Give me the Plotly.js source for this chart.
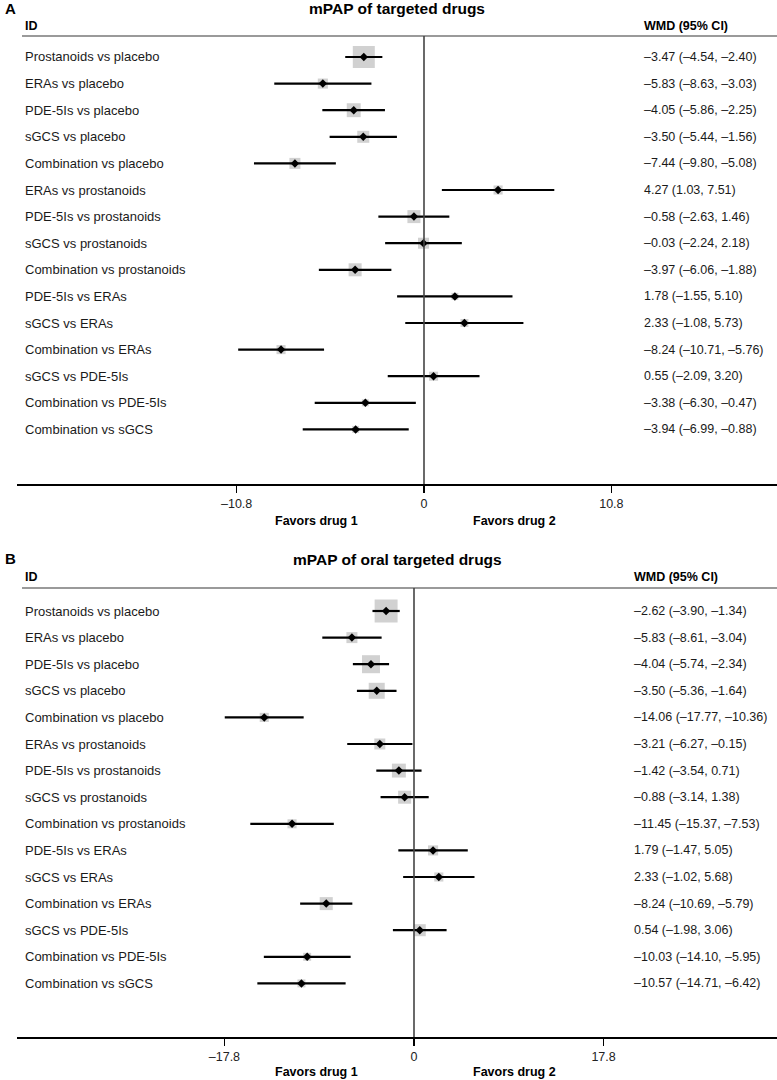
<!DOCTYPE html>
<html>
<head>
<meta charset="utf-8">
<script src="https://cdn.plot.ly/plotly-3.0.1.min.js"></script>
<style>html,body{margin:0;padding:0;background:#fff;}#chart{width:777px;height:1080px;}</style>
</head>
<body>
<div id="chart"></div>
<script>
// ---- data ----
const comparisons = ["Prostanoids vs placebo","ERAs vs placebo","PDE-5Is vs placebo","sGCS vs placebo","Combination vs placebo","ERAs vs prostanoids","PDE-5Is vs prostanoids","sGCS vs prostanoids","Combination vs prostanoids","PDE-5Is vs ERAs","sGCS vs ERAs","Combination vs ERAs","sGCS vs PDE-5Is","Combination vs PDE-5Is","Combination vs sGCS"];

const wmdA = [-3.47,-5.83,-4.05,-3.50,-7.44,4.27,-0.58,-0.03,-3.97,1.78,2.33,-8.24,0.55,-3.38,-3.94];
const lowA = [-4.54,-8.63,-5.86,-5.44,-9.80,1.03,-2.63,-2.24,-6.06,-1.55,-1.08,-10.71,-2.09,-6.30,-6.99];
const highA = [-2.40,-3.03,-2.25,-1.56,-5.08,7.51,1.46,2.18,-1.88,5.10,5.73,-5.76,3.20,-0.47,-0.88];
const weightA = [100,21,40,30,25,17,35,25,35,10,13,17,17,10,10];
const ticksA = [-10.8, 0, 10.8];

const wmdB = [-2.62,-5.83,-4.04,-3.50,-14.06,-3.21,-1.42,-0.88,-11.45,1.79,2.33,-8.24,0.54,-10.03,-10.57];
const lowB = [-3.90,-8.61,-5.74,-5.36,-17.77,-6.27,-3.54,-3.14,-15.37,-1.47,-1.02,-10.69,-1.98,-14.10,-14.71];
const highB = [-1.34,-3.04,-2.34,-1.64,-10.36,-0.15,0.71,1.38,-7.53,5.05,5.68,-5.79,3.06,-5.95,-6.42];
const weightB = [109,25,67,53,17,25,40,35,17,21,17,35,30,13,13];
const ticksB = [-17.8, 0, 17.8];

const titleA = "mPAP of targeted drugs";
const titleB = "mPAP of oral targeted drugs";

// ---- drawing ----
const W = 777, H = 1080;
const FONT = "Liberation Sans, Arial, sans-serif";
const py = y => 1 - y / H;
const px = x => x / W;
const fmt = v => (v < 0 ? "\u2013" : "") + Math.abs(v).toFixed(2);

const rowIdx = comparisons.map((_, i) => i);
const traces = [];
const annotations = [];
const shapes = [];

const layout = {
  width: W, height: H, margin: {l: 0, r: 0, t: 0, b: 0},
  paper_bgcolor: "#fff", plot_bgcolor: "#fff", showlegend: false,
  font: {family: FONT}
};

function panel(cfg) {
  const {wmd, low, high, weight, ticks, title, letter, xa, ya, zeroPx, unitPx, topLine, axisLine, row0, rowStep, titleY, headY, textX, favY} = cfg;
  traces.push({
    type: "scatter", mode: "markers", x: wmd, y: rowIdx, xaxis: xa, yaxis: ya,
    marker: {symbol: "square", size: weight.map(w => 2.2 * Math.sqrt(w)), color: "#bdbdbd", line: {width: 0}},
    hoverinfo: "skip", cliponaxis: false
  });
  traces.push({
    type: "scatter", mode: "markers", x: wmd, y: rowIdx, xaxis: xa, yaxis: ya,
    marker: {symbol: "diamond", size: 6.5, color: "#000"},
    error_x: {type: "data", symmetric: false,
      array: wmd.map((v, i) => high[i] - v), arrayminus: wmd.map((v, i) => v - low[i]),
      width: 0, thickness: 2.2, color: "#000"},
    hoverinfo: "skip", cliponaxis: false
  });
  const yref = ya === "y" ? "y" : "y2";
  comparisons.forEach((c, i) => {
    annotations.push({xref: "paper", yref, x: px(23), y: i, xanchor: "left", yanchor: "middle",
      text: c, showarrow: false, font: {family: FONT, size: 13, color: "#1a1a1a"}});
    annotations.push({xref: "paper", yref, x: px(textX), y: i, xanchor: "left", yanchor: "middle",
      text: `${fmt(wmd[i])} (${fmt(low[i])}, ${fmt(high[i])})`, showarrow: false,
      font: {family: FONT, size: 12.5, color: "#1a1a1a"}});
  });
  annotations.push({xref: "paper", yref: "paper", x: px(3), y: py(titleY - 1), xanchor: "left", yanchor: "middle",
    text: "<b>" + letter + "</b>", showarrow: false, font: {family: FONT, size: 15, color: "#000"}});
  annotations.push({xref: "paper", yref: "paper", x: px(397), y: py(titleY), xanchor: "center", yanchor: "middle",
    text: "<b>" + title + "</b>", showarrow: false, font: {family: FONT, size: 15.5, color: "#000"}});
  annotations.push({xref: "paper", yref: "paper", x: px(23), y: py(headY), xanchor: "left", yanchor: "middle",
    text: "<b>ID</b>", showarrow: false, font: {family: FONT, size: 12.5, color: "#000"}});
  annotations.push({xref: "paper", yref: "paper", x: px(textX), y: py(headY), xanchor: "left", yanchor: "middle",
    text: "<b>WMD (95% CI)</b>", showarrow: false, font: {family: FONT, size: 12.5, color: "#000"}});
  annotations.push({xref: "paper", yref: "paper", x: px(316), y: py(favY), xanchor: "center", yanchor: "middle",
    text: "<b>Favors drug 1</b>", showarrow: false, font: {family: FONT, size: 12.5, color: "#000"}});
  annotations.push({xref: "paper", yref: "paper", x: px(514), y: py(favY), xanchor: "center", yanchor: "middle",
    text: "<b>Favors drug 2</b>", showarrow: false, font: {family: FONT, size: 12.5, color: "#000"}});

  shapes.push({type: "line", xref: "paper", yref: "paper", x0: px(22), x1: 1, y0: py(topLine), y1: py(topLine),
    line: {color: "#9a9a9a", width: 2}});
  shapes.push({type: "line", xref: xa, yref: "paper", x0: 0, x1: 0, y0: py(axisLine), y1: py(topLine),
    line: {color: "#444", width: 1.6}});

  const axKey = xa === "x" ? "xaxis" : "xaxis2";
  const ayKey = ya === "y" ? "yaxis" : "yaxis2";
  const left = 17;
  layout[axKey] = {
    domain: [px(left), 1], range: [(left - zeroPx) / unitPx, (W - zeroPx) / unitPx], anchor: ya,
    tickvals: ticks, ticktext: ticks.map(t => t === 0 ? "0" : (t < 0 ? "\u2013" : "") + Math.abs(t).toFixed(1)),
    ticks: "outside", ticklen: 7, tickwidth: 1.5, tickcolor: "#000",
    showgrid: false, zeroline: false, showline: true, linecolor: "#000", linewidth: 1.6,
    tickfont: {family: FONT, size: 12.5, color: "#222"}, fixedrange: true
  };
  layout[ayKey] = {
    domain: [py(axisLine), py(topLine)], anchor: xa,
    range: [(axisLine - row0) / rowStep, (topLine - row0) / rowStep],
    visible: false, showgrid: false, zeroline: false, fixedrange: true
  };
}

panel({wmd: wmdA, low: lowA, high: highA, weight: weightA, ticks: ticksA, title: titleA, letter: "A",
  xa: "x", ya: "y", zeroPx: 424, unitPx: 17.35, topLine: 36, axisLine: 484, row0: 57, rowStep: 26.6,
  titleY: 9, headY: 26, textX: 642, favY: 521});
panel({wmd: wmdB, low: lowB, high: highB, weight: weightB, ticks: ticksB, title: titleB, letter: "B",
  xa: "x2", ya: "y2", zeroPx: 414, unitPx: 10.65, topLine: 588, axisLine: 1037, row0: 611, rowStep: 26.6,
  titleY: 559, headY: 577, textX: 632, favY: 1072});

layout.annotations = annotations;
layout.shapes = shapes;

Plotly.newPlot("chart", traces, layout, {staticPlot: true, displayModeBar: false});
</script>
</body>
</html>
